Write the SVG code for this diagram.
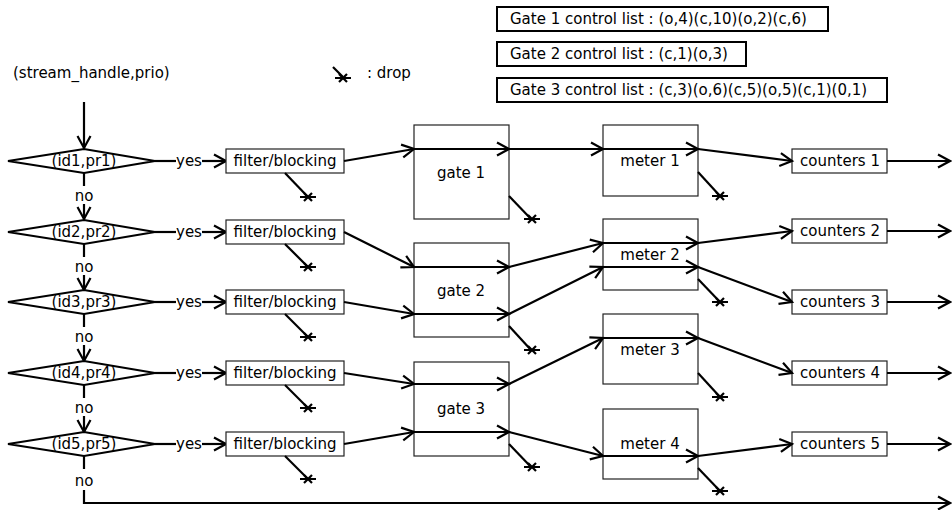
<svg xmlns="http://www.w3.org/2000/svg" width="952" height="510" viewBox="0 0 952 510">
<style>
text{font-family:"DejaVu Sans","Liberation Sans",sans-serif;font-size:15px;fill:#000}
.c{text-anchor:middle}
.box{fill:#fff;stroke:#222;stroke-width:1.2}
.tbox{fill:#fff;stroke:#000;stroke-width:2}
.dia{fill:#fff;stroke:#000;stroke-width:2.2}
.ln{fill:none;stroke:#000;stroke-width:2.2}
.ar{fill:none;stroke:#000;stroke-width:2.2;marker-end:url(#ah)}
</style>
<defs>
<marker id="ah" markerUnits="userSpaceOnUse" viewBox="-14 -8 16 16" refX="0" refY="0" markerWidth="16" markerHeight="16" orient="auto" overflow="visible">
<path d="M-12,-6.5 L0,0 L-12,6.5" fill="none" stroke="#000" stroke-width="2.2"/>
</marker>
<path id="x" d="M-8,0 H8 M-4,-4 L4,4 M-4,4 L4,-4" fill="none" stroke="#000" stroke-width="2.2"/>
</defs>

<g id="legend">
<text x="13" y="78">(stream_handle,prio)</text>
<path class="ln" d="M333,67 L343,77"/>
<use href="#x" x="343" y="78"/>
<text x="367" y="78">: drop</text>
</g>

<g id="gcl1"><rect class="tbox" x="497" y="7" width="331" height="24"/><text x="510" y="24">Gate 1 control list : (o,4)(c,10)(o,2)(c,6)</text></g>
<g id="gcl2"><rect class="tbox" x="497" y="42" width="249" height="24"/><text x="510" y="59">Gate 2 control list : (c,1)(o,3)</text></g>
<g id="gcl3"><rect class="tbox" x="497" y="78" width="390" height="24"/><text x="510" y="95">Gate 3 control list : (c,3)(o,6)(c,5)(o,5)(c,1)(0,1)</text></g>

<g id="connectors">
<path class="ar" d="M84,102 V148"/>
<!-- no arrows -->
<path class="ln" d="M84,173 V186"/><text class="c" x="84" y="201">no</text><path class="ar" d="M84,204 V219"/>
<path class="ln" d="M84,244 V257"/><text class="c" x="84" y="272">no</text><path class="ar" d="M84,275 V290"/>
<path class="ln" d="M84,314 V327"/><text class="c" x="84" y="342">no</text><path class="ar" d="M84,345 V361"/>
<path class="ln" d="M84,385 V398"/><text class="c" x="84" y="413">no</text><path class="ar" d="M84,416 V432"/>
<path class="ln" d="M84,456 V469"/><text class="c" x="84" y="486">no</text><path class="ar" d="M84,490 V503 H950"/>
<!-- yes arrows -->
<path class="ln" d="M155,161 H176"/><text x="176" y="166">yes</text><path class="ar" d="M202,161 H226"/>
<path class="ln" d="M155,232 H176"/><text x="176" y="237">yes</text><path class="ar" d="M202,232 H226"/>
<path class="ln" d="M155,302 H176"/><text x="176" y="307">yes</text><path class="ar" d="M202,302 H226"/>
<path class="ln" d="M155,373 H176"/><text x="176" y="378">yes</text><path class="ar" d="M202,373 H226"/>
<path class="ln" d="M155,444 H176"/><text x="176" y="449">yes</text><path class="ar" d="M202,444 H226"/>
</g>

<g id="diamonds">
<g id="d1"><polygon class="dia" points="8,161 84,149 155,161 84,173"/><text class="c" x="84" y="166">(id1,pr1)</text></g>
<g id="d2"><polygon class="dia" points="8,232 84,220 155,232 84,244"/><text class="c" x="84" y="237">(id2,pr2)</text></g>
<g id="d3"><polygon class="dia" points="8,302 84,290 155,302 84,314"/><text class="c" x="84" y="307">(id3,pr3)</text></g>
<g id="d4"><polygon class="dia" points="8,373 84,361 155,373 84,385"/><text class="c" x="84" y="378">(id4,pr4)</text></g>
<g id="d5"><polygon class="dia" points="8,444 84,432 155,444 84,456"/><text class="c" x="84" y="449">(id5,pr5)</text></g>
</g>

<g id="filters">
<g id="f1"><rect class="box" x="226" y="149" width="118" height="24"/><text class="c" x="285" y="166">filter/blocking</text></g>
<g id="f2"><rect class="box" x="226" y="220" width="118" height="24"/><text class="c" x="285" y="237">filter/blocking</text></g>
<g id="f3"><rect class="box" x="226" y="290" width="118" height="24"/><text class="c" x="285" y="307">filter/blocking</text></g>
<g id="f4"><rect class="box" x="226" y="361" width="118" height="24"/><text class="c" x="285" y="378">filter/blocking</text></g>
<g id="f5"><rect class="box" x="226" y="432" width="118" height="24"/><text class="c" x="285" y="449">filter/blocking</text></g>
</g>

<g id="gates">
<g id="g1"><rect class="box" x="414" y="125" width="95" height="94"/><text class="c" x="461" y="178">gate 1</text></g>
<g id="g2"><rect class="box" x="414" y="243" width="95" height="94"/><text class="c" x="461" y="296">gate 2</text></g>
<g id="g3"><rect class="box" x="414" y="362" width="95" height="94"/><text class="c" x="461" y="414">gate 3</text></g>
</g>

<g id="meters">
<g id="m1"><rect class="box" x="603" y="125" width="95" height="71"/><text class="c" x="650" y="166">meter 1</text></g>
<g id="m2"><rect class="box" x="603" y="219" width="95" height="71"/><text class="c" x="650" y="260">meter 2</text></g>
<g id="m3"><rect class="box" x="603" y="314" width="95" height="70"/><text class="c" x="650" y="355">meter 3</text></g>
<g id="m4"><rect class="box" x="603" y="409" width="95" height="70"/><text class="c" x="650" y="449">meter 4</text></g>
</g>

<g id="counters">
<g id="c1"><rect class="box" x="792" y="149" width="95" height="24"/><text class="c" x="840" y="166">counters 1</text></g>
<g id="c2"><rect class="box" x="792" y="219" width="95" height="24"/><text class="c" x="840" y="236">counters 2</text></g>
<g id="c3"><rect class="box" x="792" y="290" width="95" height="24"/><text class="c" x="840" y="307">counters 3</text></g>
<g id="c4"><rect class="box" x="792" y="361" width="95" height="24"/><text class="c" x="840" y="378">counters 4</text></g>
<g id="c5"><rect class="box" x="792" y="432" width="95" height="24"/><text class="c" x="840" y="449">counters 5</text></g>
</g>

<g id="flows">
<!-- row 1 -->
<path class="ar" d="M344,161 L414,149"/>
<path class="ar" d="M414,149 H509"/>
<path class="ar" d="M509,149 H603"/>
<path class="ar" d="M603,149 H698"/>
<path class="ar" d="M698,149 L792,161"/>
<path class="ar" d="M887,161 H950"/>
<!-- row 2 -->
<path class="ar" d="M344,232 L414,267"/>
<path class="ar" d="M414,267 H509"/>
<path class="ar" d="M509,267 L603,243"/>
<path class="ar" d="M603,243 H698"/>
<path class="ar" d="M698,243 L792,231"/>
<path class="ar" d="M887,231 H950"/>
<!-- row 3 -->
<path class="ar" d="M344,302 L414,314"/>
<path class="ar" d="M414,314 H509"/>
<path class="ar" d="M509,314 L603,267"/>
<path class="ar" d="M603,267 H698"/>
<path class="ar" d="M698,267 L792,302"/>
<path class="ar" d="M887,302 H950"/>
<!-- row 4 -->
<path class="ar" d="M344,373 L414,384"/>
<path class="ar" d="M414,384 H509"/>
<path class="ar" d="M509,384 L603,338"/>
<path class="ar" d="M603,338 H698"/>
<path class="ar" d="M698,338 L792,373"/>
<path class="ar" d="M887,373 H950"/>
<!-- row 5 -->
<path class="ar" d="M344,444 L414,432"/>
<path class="ar" d="M414,432 H509"/>
<path class="ar" d="M509,432 L603,456"/>
<path class="ar" d="M603,456 H698"/>
<path class="ar" d="M698,456 L792,444"/>
<path class="ar" d="M887,444 H950"/>
</g>

<g id="drops">
<path class="ln" d="M285,173 L308,197"/><use href="#x" x="308" y="197"/>
<path class="ln" d="M285,244 L308,267"/><use href="#x" x="308" y="267"/>
<path class="ln" d="M285,314 L308,337"/><use href="#x" x="308" y="337"/>
<path class="ln" d="M285,385 L308,408"/><use href="#x" x="308" y="408"/>
<path class="ln" d="M285,456 L308,479"/><use href="#x" x="308" y="479"/>
<path class="ln" d="M509,196 L531,219"/><use href="#x" x="532" y="219"/>
<path class="ln" d="M509,326 L531,350"/><use href="#x" x="532" y="350"/>
<path class="ln" d="M509,444 L531,467"/><use href="#x" x="532" y="467"/>
<path class="ln" d="M698,172 L720,196"/><use href="#x" x="720" y="196"/>
<path class="ln" d="M698,279 L720,302"/><use href="#x" x="720" y="302"/>
<path class="ln" d="M698,373 L720,397"/><use href="#x" x="720" y="397"/>
<path class="ln" d="M698,468 L720,491"/><use href="#x" x="720" y="491"/>
</g>
</svg>
